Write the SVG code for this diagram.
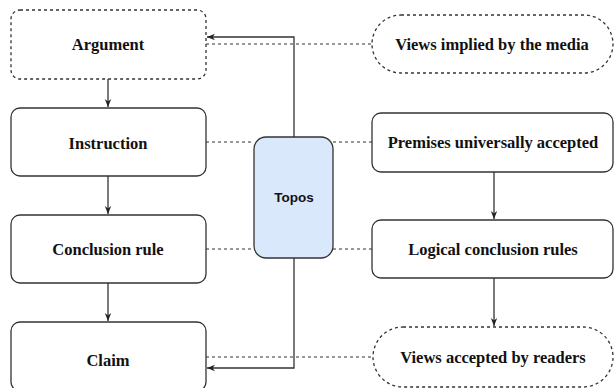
<svg xmlns="http://www.w3.org/2000/svg" width="614" height="388" viewBox="0 0 614 388">
  <defs>
    <style>
      .box { fill: #ffffff; stroke: #333333; stroke-width: 1.3; }
      .dotted { stroke-dasharray: 3 3; }
      .lbl { font-family: 'Liberation Serif', 'Times New Roman', serif; font-weight: bold; font-size: 16.5px; fill: #111111; text-anchor: middle; }
      .topos-lbl { font-family: 'Liberation Sans', Arial, sans-serif; font-weight: bold; font-size: 13.5px; fill: #111111; text-anchor: middle; }
      .flow { fill: none; stroke: #333333; stroke-width: 1.3; }
      .link { fill: none; stroke: #333333; stroke-width: 1.1; stroke-dasharray: 3 3; }
    </style>
    <marker id="arrow" viewBox="0 0 10 10" refX="10" refY="5" markerWidth="8" markerHeight="8" markerUnits="userSpaceOnUse" orient="auto">
      <path d="M0,1 L10,5 L0,9 L3,5 Z" fill="#222222"/>
    </marker>
  </defs>

  <rect width="614" height="388" fill="#ffffff"/>

  <!-- connectors -->
  <g id="connectors">
    <!-- left column flow -->
    <path class="flow" d="M108,79 V107" marker-end="url(#arrow)"/>
    <path class="flow" d="M108,176 V214" marker-end="url(#arrow)"/>
    <path class="flow" d="M108,283 V321" marker-end="url(#arrow)"/>
    <!-- right column flow -->
    <path class="flow" d="M494,172 V219" marker-end="url(#arrow)"/>
    <path class="flow" d="M494,278 V326" marker-end="url(#arrow)"/>
    <!-- topos feedback -->
    <path class="flow" d="M294,137 V37 H207" marker-end="url(#arrow)"/>
    <path class="flow" d="M294,258 V368 H207" marker-end="url(#arrow)"/>
    <!-- dashed correspondences -->
    <path class="link" d="M206,44 H372"/>
    <path class="link" d="M206,142 H254"/>
    <path class="link" d="M333,142 H372"/>
    <path class="link" d="M206,249 H254"/>
    <path class="link" d="M333,249 H372"/>
    <path class="link" d="M206,357 H373"/>
  </g>

  <!-- left column -->
  <g id="argument">
    <rect class="box dotted" x="11" y="10" width="195" height="69" rx="9"/>
    <text class="lbl" x="108" y="50">Argument</text>
  </g>
  <g id="instruction">
    <rect class="box" x="11" y="108" width="195" height="68" rx="9"/>
    <text class="lbl" x="108" y="149">Instruction</text>
  </g>
  <g id="conclusion-rule">
    <rect class="box" x="11" y="215" width="195" height="68" rx="9"/>
    <text class="lbl" x="108" y="255">Conclusion rule</text>
  </g>
  <g id="claim">
    <rect class="box" x="11" y="322" width="195" height="69" rx="9"/>
    <text class="lbl" x="108" y="366">Claim</text>
  </g>

  <!-- centre -->
  <g id="topos">
    <rect x="254" y="137" width="79" height="121" rx="12" fill="#dae8fc" stroke="#333333" stroke-width="1.3"/>
    <text class="topos-lbl" x="294" y="202">Topos</text>
  </g>

  <!-- right column -->
  <g id="views-implied">
    <rect class="box dotted" x="372" y="15" width="241" height="58" rx="29"/>
    <text class="lbl" x="492" y="50">Views implied by the media</text>
  </g>
  <g id="premises">
    <rect class="box" x="372" y="113" width="241" height="59" rx="9"/>
    <text class="lbl" x="493" y="148">Premises universally accepted</text>
  </g>
  <g id="logical-rules">
    <rect class="box" x="372" y="220" width="241" height="58" rx="9"/>
    <text class="lbl" x="493" y="255">Logical conclusion rules</text>
  </g>
  <g id="views-accepted">
    <rect class="box dotted" x="373" y="327" width="240" height="60" rx="30"/>
    <text class="lbl" x="493" y="363">Views accepted by readers</text>
  </g>
</svg>
